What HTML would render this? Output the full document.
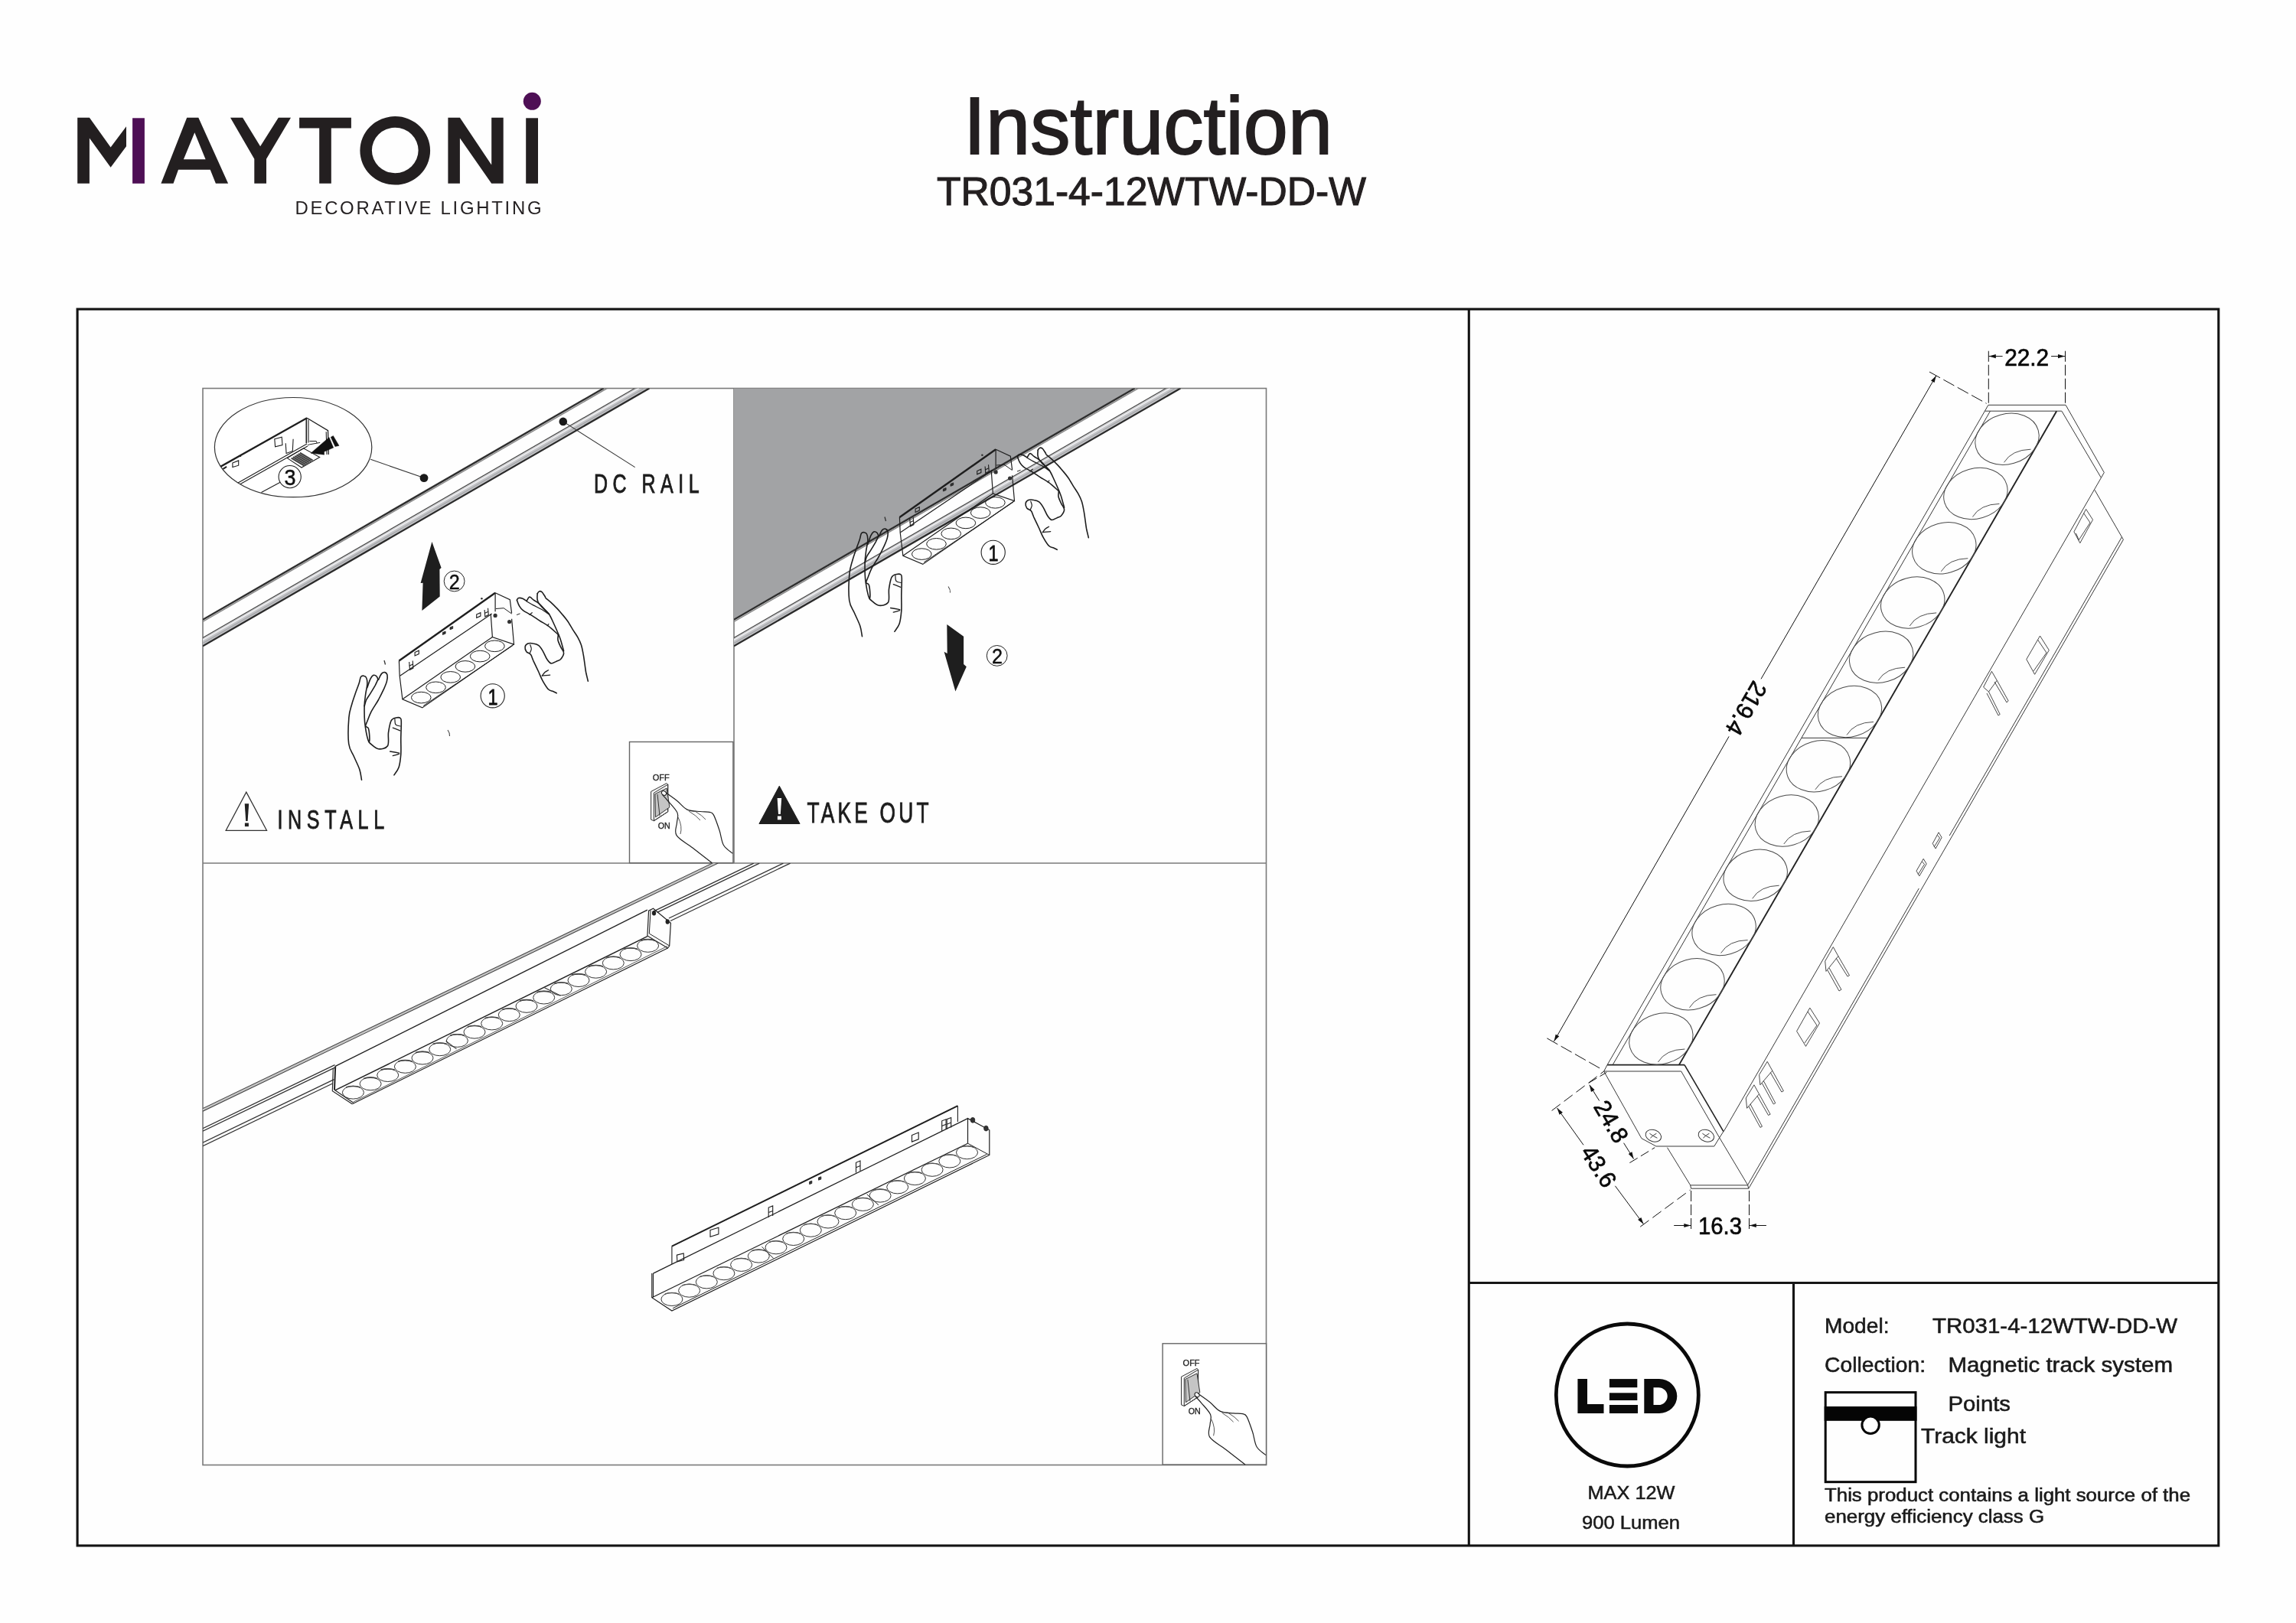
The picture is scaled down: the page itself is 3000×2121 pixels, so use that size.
<!DOCTYPE html>
<html><head><meta charset="utf-8"><style>
html,body{margin:0;padding:0;background:#fff;}
svg{display:block;will-change:transform;}
</style></head><body>
<svg width="3000" height="2121" viewBox="0 0 3000 2121">
<rect width="3000" height="2121" fill="#fefefe"/>
<polygon points="101.2,153.8 116.9,153.8 144.6,192.6 165.0,165.3 165.0,191.2 144.6,218.8 116.9,180.4 116.9,239.8 101.2,239.8" fill="#231f20" stroke="none" stroke-width="1.2" stroke-linejoin="miter" />
<rect x="173.1" y="154.3" width="15.8" height="85.5" fill="#4e0f55"/>
<path d="M210.4,239.8 L244.2,153.8 L259.3,153.8 L298.1,239.8 L281.9,239.8 L274.7,221.8 L233,221.8 L226.5,239.8 Z M239.9,208.2 L268.6,208.2 L254.3,173.2 Z" fill="#231f20" stroke="none" stroke-width="1.2" fill-rule="evenodd"/>
<polygon points="301.0,153.8 317.1,153.8 340.1,191.2 363.8,153.8 380.0,153.8 348.0,207.7 348.0,239.8 332.3,239.8 332.3,207.7" fill="#231f20" stroke="none" stroke-width="1.2" stroke-linejoin="miter" />
<polygon points="391.1,153.8 458.9,153.8 458.9,167.5 432.8,167.5 432.8,239.8 417.2,239.8 417.2,167.5 391.1,167.5" fill="#231f20" stroke="none" stroke-width="1.2" stroke-linejoin="miter" />
<path d="M470.4,196.8 A45.85,44.75 0 1 0 562.1,196.8 A45.85,44.75 0 1 0 470.4,196.8 Z M485.9,196.5 A30.35,29.65 0 1 1 546.6,196.5 A30.35,29.65 0 1 1 485.9,196.5 Z" fill="#231f20" stroke="none" stroke-width="1.2" fill-rule="evenodd"/>
<polygon points="585.4,153.8 600.9,153.8 642.2,215.6 642.2,153.8 657.7,153.8 657.7,239.8 642.2,239.8 600.9,180.4 600.9,239.8 585.4,239.8" fill="#231f20" stroke="none" stroke-width="1.2" stroke-linejoin="miter" />
<rect x="687.2" y="154.3" width="15.8" height="85.5" fill="#231f20"/>
<circle cx="695.3" cy="132.3" r="11.5" fill="#4e0f55"/>
<text transform="translate(385.5,279.6) scale(0.97,1)" font-family="Liberation Sans" font-size="24.7" fill="#231f20" textLength="332" lengthAdjust="spacing">DECORATIVE LIGHTING</text>
<text x="1259" y="200.9" font-family="Liberation Sans" font-size="105.7" font-weight="normal" fill="#231f20" text-anchor="start" textLength="482" lengthAdjust="spacingAndGlyphs" stroke="#231f20" stroke-width="1.9">Instruction</text>
<text x="1224" y="267.9" font-family="Liberation Sans" font-size="52" font-weight="normal" fill="#231f20" text-anchor="start" textLength="561" lengthAdjust="spacingAndGlyphs" stroke="#231f20" stroke-width="1.1">TR031-4-12WTW-DD-W</text>
<rect x="101.1" y="404" width="2797.7" height="1615.9" fill="none" stroke="#131313" stroke-width="3.1"/>
<line x1="1919.3" y1="404.0" x2="1919.3" y2="2019.9" stroke="#131313" stroke-width="3.1" />
<line x1="1919.3" y1="1676.5" x2="2898.8" y2="1676.5" stroke="#161616" stroke-width="3.1" />
<line x1="2343.5" y1="1676.5" x2="2343.5" y2="2019.9" stroke="#161616" stroke-width="3.1" />
<rect x="265" y="507.5" width="1389.5" height="1407" fill="none" stroke="#7a7a7a" stroke-width="1.6"/>
<line x1="959.0" y1="507.5" x2="959.0" y2="1128.0" stroke="#7a7a7a" stroke-width="1.6" />
<line x1="265.0" y1="1128.0" x2="1654.5" y2="1128.0" stroke="#7a7a7a" stroke-width="1.6" />
<defs><clipPath id="cp1"><rect x="265" y="507.5" width="694" height="620.5"/></clipPath><clipPath id="cp2"><rect x="959" y="507.5" width="695.5" height="620.5"/></clipPath><clipPath id="cp3"><rect x="265" y="1128" width="1389.5" height="786.5"/></clipPath></defs>
<polygon points="265.0,834.5 831.4,507.5 847.5,507.5 265.0,843.8" fill="#c3c4c7" stroke="none" stroke-width="1.2" stroke-linejoin="miter" clip-path="url(#cp1)"/>
<line x1="265.0" y1="809.8" x2="788.6" y2="507.5" stroke="#2e2e2e" stroke-width="2.4" clip-path="url(#cp1)"/>
<line x1="265.0" y1="812.4" x2="793.1" y2="507.5" stroke="#8a8a8a" stroke-width="1.6" clip-path="url(#cp1)"/>
<line x1="265.0" y1="833.4" x2="829.5" y2="507.5" stroke="#4a4a4a" stroke-width="1.3" clip-path="url(#cp1)"/>
<line x1="265.0" y1="836.4" x2="834.7" y2="507.5" stroke="#f0f0f2" stroke-width="1.6" clip-path="url(#cp1)"/>
<line x1="265.0" y1="840.6" x2="841.9" y2="507.5" stroke="#a5a6a9" stroke-width="1.4" clip-path="url(#cp1)"/>
<line x1="265.0" y1="844.3" x2="848.4" y2="507.5" stroke="#2a2a2a" stroke-width="2.3" clip-path="url(#cp1)"/>
<polygon points="959.0,507.5 1484.0,507.5 959.0,810.6" fill="#a2a3a5" stroke="none" stroke-width="1.2" stroke-linejoin="miter" clip-path="url(#cp2)"/>
<polygon points="959.0,834.5 1525.4,507.5 1541.5,507.5 959.0,843.8" fill="#c3c4c7" stroke="none" stroke-width="1.2" stroke-linejoin="miter" clip-path="url(#cp2)"/>
<line x1="959.0" y1="809.8" x2="1482.6" y2="507.5" stroke="#2e2e2e" stroke-width="2.4" clip-path="url(#cp2)"/>
<line x1="959.0" y1="812.4" x2="1487.1" y2="507.5" stroke="#8a8a8a" stroke-width="1.6" clip-path="url(#cp2)"/>
<line x1="959.0" y1="833.4" x2="1523.5" y2="507.5" stroke="#4a4a4a" stroke-width="1.3" clip-path="url(#cp2)"/>
<line x1="959.0" y1="836.4" x2="1528.7" y2="507.5" stroke="#f0f0f2" stroke-width="1.6" clip-path="url(#cp2)"/>
<line x1="959.0" y1="840.6" x2="1535.9" y2="507.5" stroke="#a5a6a9" stroke-width="1.4" clip-path="url(#cp2)"/>
<line x1="959.0" y1="844.3" x2="1542.4" y2="507.5" stroke="#2a2a2a" stroke-width="2.3" clip-path="url(#cp2)"/>
<g id="scene">
<polyline points="521.4,863.5 647.1,774.8" fill="none" stroke="#1e1e1e" stroke-width="2.4" stroke-linejoin="miter" />
<polyline points="647.1,774.8 666.3,783.7 668.6,801.4" fill="none" stroke="#1e1e1e" stroke-width="1.2" stroke-linejoin="miter" />
<polyline points="647.1,774.8 647.1,799.2" fill="none" stroke="#1e1e1e" stroke-width="1.2" stroke-linejoin="miter" />
<polyline points="521.4,863.5 522.2,883.5" fill="none" stroke="#1e1e1e" stroke-width="1.2" stroke-linejoin="miter" />
<polyline points="522.2,883.5 642.7,802.1" fill="none" stroke="#1e1e1e" stroke-width="1.2" stroke-linejoin="miter" />
<polyline points="641.2,802.1 643.4,832.5 671.5,842.1 668.6,808.8" fill="none" stroke="#1e1e1e" stroke-width="1.2" stroke-linejoin="miter" />
<polyline points="647.9,795.5 658.2,794.7 668.6,802.1" fill="none" stroke="#1e1e1e" stroke-width="1" stroke-linejoin="miter" />
<polyline points="522.2,883.5 525.9,913.8 551.8,924.9 671.5,842.1" fill="none" stroke="#1e1e1e" stroke-width="1.2" stroke-linejoin="miter" />
<polyline points="553.2,922.4 670.0,843.5" fill="none" stroke="#1e1e1e" stroke-width="1" stroke-linejoin="miter" />
<polyline points="525.9,913.8 643.4,832.5" fill="none" stroke="#1e1e1e" stroke-width="1.2" stroke-linejoin="miter" />
<ellipse cx="550.3" cy="911.6" rx="12.8" ry="7.3" fill="none" stroke="#1e1e1e" stroke-width="1"/>
<ellipse cx="569.5" cy="898.3" rx="12.8" ry="7.3" fill="none" stroke="#1e1e1e" stroke-width="1"/>
<ellipse cx="588.7" cy="884.9" rx="12.8" ry="7.3" fill="none" stroke="#1e1e1e" stroke-width="1"/>
<ellipse cx="607.9" cy="870.9" rx="12.8" ry="7.3" fill="none" stroke="#1e1e1e" stroke-width="1"/>
<ellipse cx="627.2" cy="857.6" rx="12.8" ry="7.3" fill="none" stroke="#1e1e1e" stroke-width="1"/>
<ellipse cx="646.4" cy="844.3" rx="12.8" ry="7.3" fill="none" stroke="#1e1e1e" stroke-width="1"/>
<circle cx="647.1" cy="804.4" r="2.6" fill="#333"/>
<circle cx="665.6" cy="812.5" r="2.6" fill="#333"/>
<polygon points="542.1,852.4 547.3,850.2 547.3,854.6 542.1,856.9" fill="none" stroke="#1e1e1e" stroke-width="1.1" stroke-linejoin="miter" />
<polyline points="534.7,865.0 535.5,875.3 539.9,873.1 539.2,863.5" fill="none" stroke="#1e1e1e" stroke-width="1.1" stroke-linejoin="miter" />
<polyline points="534.7,870.2 539.6,867.9" fill="none" stroke="#1e1e1e" stroke-width="1.1" stroke-linejoin="miter" />
<polygon points="578.4,826.5 582.1,825.1 582.1,828.0 578.4,829.5" fill="#333" stroke="#1e1e1e" stroke-width="0.8" stroke-linejoin="miter" />
<polygon points="588.0,819.9 591.7,818.4 591.7,821.4 588.0,822.8" fill="#333" stroke="#1e1e1e" stroke-width="0.8" stroke-linejoin="miter" />
<polygon points="622.7,802.9 627.9,800.7 627.9,805.1 622.7,807.3" fill="none" stroke="#1e1e1e" stroke-width="1.1" stroke-linejoin="miter" />
<polyline points="633.1,797.0 633.8,805.8 638.3,803.6 637.5,794.7" fill="none" stroke="#1e1e1e" stroke-width="1.1" stroke-linejoin="miter" />
<polyline points="633.1,801.4 638.0,799.2" fill="none" stroke="#1e1e1e" stroke-width="1.1" stroke-linejoin="miter" />
<path d="M502,863 L503.5,868.5" fill="none" stroke="#333" stroke-width="1.3" />
<path d="M585,954 Q588,958 587.5,962" fill="none" stroke="#444" stroke-width="1.1" />
<circle cx="629.4" cy="782.2" r="1.3" fill="#333"/>
<circle cx="643.7" cy="909.3" r="15.6" fill="none" stroke="#222" stroke-width="1.1"/>
<text x="643.9" y="920.5" font-family="Liberation Sans" font-size="30" font-weight="normal" fill="#111" text-anchor="middle" textLength="13" lengthAdjust="spacingAndGlyphs" stroke="#111" stroke-width="0.8">1</text>
<path d="M702.2,775.7 C702.5,775.2 703.4,773.2 704.4,772.9 C705.4,772.5 706.7,772.6 708.0,773.7 C709.2,774.7 711.1,777.9 712.0,779.3 C712.9,780.7 712.0,780.5 713.3,781.8 C714.7,783.1 717.6,785.1 720.0,787.3 C722.5,789.6 725.7,792.9 728.1,795.4 C730.5,797.9 732.1,799.9 734.3,802.5 C736.6,805.2 739.1,808.0 741.5,811.5 C743.9,814.9 746.4,819.5 748.6,823.1 C750.9,826.7 753.1,829.6 754.9,832.9 C756.7,836.2 758.2,839.2 759.4,842.7 C760.6,846.3 761.3,850.5 762.0,854.4 C762.8,858.2 763.2,862.0 763.8,866.0 C764.4,870.0 764.9,874.5 765.6,878.5 C766.4,882.5 767.9,888.2 768.3,890.1" fill="none" stroke="#1e1e1e" stroke-width="1.6" stroke-linecap="round" stroke-linejoin="round" />
<path d="M702.2,775.7 C702.1,776.9 701.7,780.8 702.0,782.9 C702.3,785.0 702.7,786.5 704.0,788.4 C705.2,790.4 707.1,792.1 709.3,794.5 C711.6,796.8 715.0,799.1 717.4,802.5 C719.7,806.0 721.5,810.6 723.6,815.0 C725.7,819.5 728.4,825.8 729.9,829.3 C731.4,832.9 731.4,832.9 732.6,836.5 C733.7,840.1 735.9,848.4 736.6,850.8" fill="none" stroke="#1e1e1e" stroke-width="1.6" stroke-linecap="round" stroke-linejoin="round" />
<path d="M688.3,785.1 C688.8,784.3 690.4,781.1 691.3,780.4 C692.1,779.6 692.4,780.1 693.4,780.7 C694.4,781.4 695.4,782.8 697.3,784.2 C699.1,785.6 701.1,785.9 704.4,788.9 C707.8,792.0 715.2,800.3 717.4,802.5" fill="none" stroke="#1e1e1e" stroke-width="1.6" stroke-linecap="round" stroke-linejoin="round" />
<path d="M688.3,786.0 C689.7,786.8 693.6,789.2 696.8,790.9 C700.0,792.6 704.1,794.3 707.5,796.3 C711.0,798.3 715.7,801.9 717.4,803.0" fill="none" stroke="#1e1e1e" stroke-width="1.3" stroke-linecap="round" stroke-linejoin="round" />
<path d="M675.4,784.2 C675.7,783.8 676.3,781.9 677.6,781.5 C678.9,781.2 681.2,781.5 683.0,782.2 C684.7,782.9 687.4,785.1 688.3,785.7" fill="none" stroke="#1e1e1e" stroke-width="1.6" stroke-linecap="round" stroke-linejoin="round" />
<path d="M675.4,784.2 C675.9,785.5 677.1,789.6 678.5,791.8 C679.8,794.0 680.9,795.7 683.4,797.6 C685.9,799.6 689.5,801.1 693.2,803.4 C697.0,805.7 701.9,809.0 705.7,811.5 C709.6,813.9 712.5,815.2 716.5,818.2 C720.4,821.2 727.3,827.5 729.4,829.3" fill="none" stroke="#1e1e1e" stroke-width="1.6" stroke-linecap="round" stroke-linejoin="round" />
<path d="M729.4,829.3 C729.4,830.5 728.5,833.8 729.0,836.5 C729.5,839.2 731.3,842.6 732.6,845.4 C733.8,848.3 736.6,850.8 736.6,853.5 C736.6,856.2 734.1,859.7 732.6,861.5 C731.0,863.3 729.3,863.3 727.2,864.2 C725.1,865.1 722.1,867.3 720.0,866.9 C718.0,866.4 716.5,864.2 714.7,861.5 C712.9,858.8 711.1,853.8 709.3,850.8 C707.5,847.8 706.0,845.3 704.0,843.6 C701.9,842.0 699.2,841.4 696.8,841.0 C694.4,840.5 691.4,840.4 689.7,841.1 C687.9,841.9 686.4,843.7 686.1,845.4 C685.8,847.2 686.7,850.0 687.9,851.7 C689.1,853.3 691.9,853.3 693.4,855.3 C694.9,857.2 695.1,859.4 696.8,863.3 C698.6,867.2 701.9,874.0 704.0,878.5 C706.0,883.0 707.2,886.4 709.3,890.1 C711.4,893.8 714.2,898.6 716.5,900.8 C718.7,903.1 720.9,902.7 722.7,903.5 C724.5,904.3 726.4,905.4 727.2,905.8" fill="none" stroke="#1e1e1e" stroke-width="1.6" stroke-linecap="round" stroke-linejoin="round" />
<path d="M708.4,883.0 C709.0,882.2 710.7,879.7 712.0,878.5 C713.3,877.3 715.7,876.3 716.5,875.8" fill="none" stroke="#1e1e1e" stroke-width="1.3" stroke-linecap="round" stroke-linejoin="round" />
<path d="M708.4,883.1 C710.1,883.0 717.0,882.2 718.7,882.1" fill="none" stroke="#1e1e1e" stroke-width="1.3" stroke-linecap="round" stroke-linejoin="round" />
<path d="M692.8,842.7 C693.0,843.6 694.4,846.4 694.3,848.1 C694.3,849.8 692.8,852.2 692.5,853.0" fill="none" stroke="#1e1e1e" stroke-width="1.2" stroke-linecap="round" stroke-linejoin="round" />
<path d="M691.9,803.4 C692.4,803.0 694.6,801.2 695.2,800.7" fill="none" stroke="#1e1e1e" stroke-width="1.2" stroke-linecap="round" stroke-linejoin="round" />
<path d="M715.1,817.7 C715.4,817.4 716.6,815.9 716.9,815.5" fill="none" stroke="#1e1e1e" stroke-width="1.2" stroke-linecap="round" stroke-linejoin="round" />
<path d="M675.4,803.4 C676.6,803.0 681.3,801.2 682.5,800.7" fill="none" stroke="#1e1e1e" stroke-width="1.0" stroke-linecap="round" stroke-linejoin="round" stroke-dasharray="4,5"/>
<path d="M472.5,1019.2 C472.0,1016.9 471.5,1010.6 469.8,1005.5 C468.2,1000.5 464.9,994.4 462.5,988.8 C460.2,983.2 456.8,980.6 455.7,972.0 C454.6,963.5 455.2,946.2 455.9,937.5 C456.6,928.8 458.4,925.3 459.9,919.7 C461.4,914.1 463.6,908.5 465.1,904.0 C466.7,899.4 468.3,895.7 469.3,892.5 C470.4,889.2 470.5,886.1 471.4,884.6 C472.4,883.1 473.9,883.1 475.1,883.2 C476.3,883.4 478.0,883.8 478.7,885.7 C479.5,887.5 480.0,891.0 479.8,894.6 C479.6,898.1 478.3,902.4 477.7,907.1 C477.1,911.8 476.3,916.7 476.1,922.8 C476.0,928.9 475.9,936.4 476.6,943.8 C477.4,951.1 479.4,962.0 480.8,966.8 C482.2,971.6 482.8,970.6 485.0,972.6 C487.3,974.6 490.9,978.5 494.5,978.8 C498.0,979.2 504.3,978.2 506.5,974.7 C508.7,971.1 506.8,962.9 507.5,957.4 C508.3,951.9 509.5,944.9 511.2,941.7 C512.9,938.4 515.5,938.5 517.5,938.0 C519.5,937.5 522.1,937.6 523.2,938.5 C524.4,939.5 524.2,939.4 524.3,943.8 C524.4,948.1 523.9,957.7 523.8,964.7 C523.7,971.7 524.2,979.4 523.8,985.7 C523.3,991.9 522.6,997.9 521.2,1002.4 C519.7,1006.9 515.9,1011.1 514.9,1012.9" fill="none" stroke="#1e1e1e" stroke-width="1.6" stroke-linecap="round" stroke-linejoin="round" />
<path d="M479.8,898.7 C480.5,896.8 482.7,889.9 484.0,887.2 C485.3,884.5 486.3,883.1 487.6,882.5 C489.0,881.9 490.8,882.7 491.8,883.6 C492.9,884.4 493.6,887.1 493.9,887.7" fill="none" stroke="#1e1e1e" stroke-width="1.6" stroke-linecap="round" stroke-linejoin="round" />
<path d="M494.5,888.3 C495.1,887.0 497.2,882.0 498.6,880.4 C500.0,878.8 501.6,878.4 502.8,878.6 C504.0,878.9 505.5,880.0 506.0,882.0 C506.4,883.9 506.1,887.4 505.4,890.4 C504.7,893.3 503.6,895.8 501.8,899.8 C499.9,903.8 497.2,909.4 494.5,914.5 C491.7,919.5 487.5,925.4 485.0,930.2 C482.6,934.9 481.0,939.6 479.8,942.7 C478.6,945.9 477.4,947.4 477.7,949.0 C478.0,950.6 480.5,949.5 481.4,952.1 C482.2,954.8 482.8,961.7 482.9,964.7 C483.1,967.7 482.5,969.1 482.4,969.9" fill="none" stroke="#1e1e1e" stroke-width="1.6" stroke-linecap="round" stroke-linejoin="round" />
<path d="M493.9,887.7 C493.3,889.1 491.9,892.5 490.3,895.6 C488.6,898.7 485.9,902.9 484.0,906.1 C482.1,909.2 480.1,911.7 478.7,914.5 C477.4,917.2 476.6,921.4 476.1,922.8" fill="none" stroke="#1e1e1e" stroke-width="1.6" stroke-linecap="round" stroke-linejoin="round" />
<path d="M513.3,951.1 C514.9,951.7 521.2,954.2 522.7,954.8" fill="none" stroke="#1e1e1e" stroke-width="1.3" stroke-linecap="round" stroke-linejoin="round" />
<path d="M509.6,982.0 C511.6,982.3 519.7,983.7 521.7,984.1" fill="none" stroke="#1e1e1e" stroke-width="1.3" stroke-linecap="round" stroke-linejoin="round" />
<path d="M513.3,987.7 C514.7,987.3 520.3,985.6 521.7,985.1" fill="none" stroke="#1e1e1e" stroke-width="1.3" stroke-linecap="round" stroke-linejoin="round" />
<path d="M515.9,939.6 C516.1,940.8 515.7,945.3 517.0,946.9 C518.2,948.5 522.2,948.7 523.2,949.0" fill="none" stroke="#1e1e1e" stroke-width="1.2" stroke-linecap="round" stroke-linejoin="round" />
</g>
<g clip-path="url(#cp2)"><use href="#scene" transform="translate(654,-187.5)"/></g>
<polygon points="564.4,708.1 576.6,742.1 574.4,744.0 574.7,779.5 551.4,798.0 552.6,761.7 549.6,762.1" fill="#1e1e1e" stroke="none" stroke-width="1.2" stroke-linejoin="miter" />
<circle cx="593.6" cy="759.5" r="13.4" fill="none" stroke="#222" stroke-width="1"/>
<text x="593.8" y="770" font-family="Liberation Sans" font-size="28" font-weight="normal" fill="#111" text-anchor="middle" textLength="14" lengthAdjust="spacingAndGlyphs" stroke="#111" stroke-width="0.5">2</text>
<defs><clipPath id="ell"><ellipse cx="383.1" cy="584.6" rx="102.7" ry="65.1"/></clipPath></defs>
<ellipse cx="383.1" cy="584.6" rx="102.7" ry="65.1" fill="#fff" stroke="#333" stroke-width="1.2"/>
<g clip-path="url(#ell)">
<polyline points="275.7,616.8 401.1,546.3" fill="none" stroke="#1e1e1e" stroke-width="2.2" stroke-linejoin="miter" />
<polyline points="275.7,616.8 280.4,616.0" fill="none" stroke="#1e1e1e" stroke-width="1" stroke-linejoin="miter" />
<polyline points="307.0,633.3 401.1,580.0" fill="none" stroke="#1e1e1e" stroke-width="1.1" stroke-linejoin="miter" />
<polyline points="310.2,634.8 401.9,583.1" fill="none" stroke="#1e1e1e" stroke-width="1.1" stroke-linejoin="miter" />
<polyline points="341.5,643.5 366.6,630.1" fill="none" stroke="#1e1e1e" stroke-width="1.1" stroke-linejoin="miter" />
<polyline points="400.3,546.3 400.3,579.2" fill="none" stroke="#1e1e1e" stroke-width="1.6" stroke-linejoin="miter" />
<polyline points="403.0,548.6 403.0,578.4" fill="none" stroke="#1e1e1e" stroke-width="1.1" stroke-linejoin="miter" />
<polyline points="401.1,546.3 428.5,562.7 429.3,594.1" fill="none" stroke="#1e1e1e" stroke-width="1.3" stroke-linejoin="miter" />
<polyline points="426.2,564.3 427.0,594.1" fill="none" stroke="#1e1e1e" stroke-width="1.1" stroke-linejoin="miter" />
<polygon points="406.1,592.2 430.0,571.5 435.7,585.1 423.6,590.3 423.6,594.2" fill="#111" stroke="#1e1e1e" stroke-width="0.5" stroke-linejoin="miter" />
<polygon points="432.2,571.3 435.4,569.6 443.0,582.4 437.9,583.6" fill="#111" stroke="#1e1e1e" stroke-width="0.5" stroke-linejoin="miter" />
<polygon points="375.3,598.6 396.5,585.8 417.7,597.4 394.0,611.0" fill="none" stroke="#1e1e1e" stroke-width="1.1" stroke-linejoin="miter" />
<polyline points="380.7,598.6 397.5,608.5" fill="none" stroke="#444" stroke-width="2.2" stroke-linejoin="miter" />
<polyline points="382.9,597.3 399.7,607.1" fill="none" stroke="#444" stroke-width="2.2" stroke-linejoin="miter" />
<polyline points="385.1,595.9 401.9,605.7" fill="none" stroke="#444" stroke-width="2.2" stroke-linejoin="miter" />
<polyline points="387.4,594.5 404.1,604.4" fill="none" stroke="#444" stroke-width="2.2" stroke-linejoin="miter" />
<polyline points="389.6,593.1 406.3,603.0" fill="none" stroke="#444" stroke-width="2.2" stroke-linejoin="miter" />
<polyline points="391.8,591.7 408.5,601.6" fill="none" stroke="#444" stroke-width="2.2" stroke-linejoin="miter" />
<polyline points="401.9,581.9 404.4,580.9 418.2,578.4" fill="none" stroke="#1e1e1e" stroke-width="1.0" stroke-linejoin="miter" />
<polyline points="404.4,576.5 413.2,576.5 414.2,578.9" fill="none" stroke="#1e1e1e" stroke-width="1.0" stroke-linejoin="miter" />
<polygon points="358.8,573.7 368.2,571.3 369.0,581.5 359.6,583.9" fill="none" stroke="#1e1e1e" stroke-width="1.1" stroke-linejoin="miter" />
<polyline points="373.2,579.2 374.1,592.5 382.3,589.4 383.1,573.7" fill="none" stroke="#1e1e1e" stroke-width="1.1" stroke-linejoin="miter" />
<polygon points="303.9,605.0 311.7,601.9 311.7,608.2 303.9,610.5" fill="none" stroke="#1e1e1e" stroke-width="1.1" stroke-linejoin="miter" />
<polyline points="313.3,596.4 314.9,595.6" fill="none" stroke="#1e1e1e" stroke-width="2" stroke-linejoin="miter" />
<polyline points="291.4,612.9 296.1,609.8" fill="none" stroke="#1e1e1e" stroke-width="2" stroke-linejoin="miter" />
</g>
<circle cx="378.7" cy="623.1" r="14.6" fill="#fff" stroke="#222" stroke-width="1.1"/>
<text x="378.9" y="634" font-family="Liberation Sans" font-size="29" font-weight="normal" fill="#111" text-anchor="middle" textLength="15" lengthAdjust="spacingAndGlyphs" stroke="#111" stroke-width="0.5">3</text>
<line x1="484.2" y1="600.3" x2="554.0" y2="624.6" stroke="#333" stroke-width="1.1" />
<circle cx="554" cy="624.6" r="5.4" fill="#1a1a1a"/>
<line x1="735.8" y1="550.9" x2="829.7" y2="610.6" stroke="#333" stroke-width="1.1" />
<circle cx="735.8" cy="550.9" r="5.3" fill="#1a1a1a"/>
<text transform="translate(776,643.9) scale(0.72,1)" font-family="Liberation Sans" font-size="34.7" fill="#1c1c1c" stroke="#1c1c1c" stroke-width="0.9" textLength="191" lengthAdjust="spacing">DC RAIL</text>
<polygon points="295.2,1085.3 321.8,1035.2 348.5,1085.3" fill="none" stroke="#333" stroke-width="1.3" stroke-linejoin="miter" />
<polygon points="319.7,1050.3 325.2,1050.3 323.6,1073.0 321.2,1073.0" fill="#222" stroke="none" stroke-width="1.2" stroke-linejoin="miter" />
<rect x="319.9" y="1075.5" width="5" height="4.6" fill="#222"/>
<text transform="translate(362.5,1082.7) scale(0.72,1)" font-family="Liberation Sans" font-size="34.9" fill="#1c1c1c" stroke="#1c1c1c" stroke-width="0.9" textLength="194" lengthAdjust="spacing">INSTALL</text>
<g transform="translate(0.0,0.0)">
<rect x="822.5" y="969.5" width="135.4" height="158.2" fill="#fff" stroke="#666" stroke-width="1.4"/>
<g transform="translate(0,0)">
<polygon points="850.6,1034.4 871.1,1023.6 872.7,1025.2 872.7,1060.8 854.4,1072.7 850.6,1071.1" fill="#f4f4f4" stroke="#333" stroke-width="1" stroke-linejoin="miter" />
<polygon points="854.4,1036.2 872.7,1025.2 872.7,1060.8 854.4,1072.7" fill="none" stroke="#333" stroke-width="1" stroke-linejoin="miter" />
<polygon points="856.0,1037.6 871.1,1030.1 874.9,1054.9 856.5,1067.8" fill="#c5c5c5" stroke="#333" stroke-width="1" stroke-linejoin="miter" />
<line x1="859.0" y1="1038.0" x2="862.0" y2="1066.0" stroke="#333" stroke-width="1" />
<text x="852.7" y="1020.4" font-family="Liberation Sans" font-size="10.5" font-weight="normal" fill="#222" text-anchor="start" textLength="22" lengthAdjust="spacingAndGlyphs" stroke="#222" stroke-width="0.3">OFF</text>
<text x="859.8" y="1082.9" font-family="Liberation Sans" font-size="10.5" font-weight="normal" fill="#222" text-anchor="start" textLength="16" lengthAdjust="spacingAndGlyphs" stroke="#222" stroke-width="0.3">ON</text>
</g>
<path d="M865.1,1038.2 C866.4,1039.7 869.7,1043.0 873.0,1047.0 C876.3,1051.0 883.2,1057.7 885.1,1062.4 C887.0,1067.1 884.7,1070.1 884.5,1075.0 C884.3,1079.9 880.6,1086.1 884.0,1091.6 C887.4,1097.1 897.3,1102.0 905.0,1108.0 C912.7,1114.0 926.2,1124.4 930.4,1127.7" fill="none" stroke="#222" stroke-width="1.2" />
<path d="M868.0,1034.5 C870.7,1036.4 879.0,1042.1 884.0,1046.0 C889.0,1049.9 892.8,1055.7 898.0,1058.1 C903.2,1060.5 910.1,1060.0 915.0,1060.5 C919.9,1061.0 924.3,1060.6 927.2,1061.4 C930.1,1062.2 930.4,1061.2 932.5,1065.1 C934.6,1069.0 937.8,1078.4 940.0,1085.0 C942.2,1091.6 942.6,1099.5 945.5,1104.5 C948.4,1109.5 955.3,1113.5 957.3,1115.3" fill="none" stroke="#222" stroke-width="1.2" />
<ellipse cx="867.5" cy="1036.5" rx="3.3" ry="2.5" fill="#fff" stroke="#222" stroke-width="1" transform="rotate(35 867.5 1036.5)"/>
<path d="M900,1060 Q910,1066 915,1072 M908,1060 Q918,1066 922,1071 M886,1068 Q892,1080 889,1090" fill="none" stroke="#444" stroke-width="0.9" />
</g>
<polygon points="1237.3,815.9 1259.1,831.8 1259.1,868.0 1262.8,871.3 1248.4,903.5 1233.6,851.7 1237.7,854.0" fill="#1e1e1e" stroke="none" stroke-width="1.2" stroke-linejoin="miter" />
<circle cx="1302.7" cy="856.9" r="13.4" fill="none" stroke="#222" stroke-width="1"/>
<text x="1302.9" y="867.4" font-family="Liberation Sans" font-size="28" font-weight="normal" fill="#111" text-anchor="middle" textLength="14" lengthAdjust="spacingAndGlyphs" stroke="#111" stroke-width="0.5">2</text>
<polygon points="991.9,1076.5 1018.3,1027.2 1045.1,1076.5" fill="#1e1e1e" stroke="#1e1e1e" stroke-width="1" stroke-linejoin="miter" />
<polygon points="1015.6,1043.0 1021.2,1043.0 1019.8,1064.0 1017.0,1064.0" fill="#fff" stroke="none" stroke-width="1.2" stroke-linejoin="miter" />
<rect x="1015.9" y="1066.5" width="5" height="4.8" fill="#fff"/>
<text transform="translate(1054.5,1074.5) scale(0.72,1)" font-family="Liberation Sans" font-size="36.6" fill="#1c1c1c" stroke="#1c1c1c" stroke-width="0.9" textLength="221" lengthAdjust="spacing">TAKE OUT</text>
<line x1="265.0" y1="1450.4" x2="934.5" y2="1128.1" stroke="#c8c8c8" stroke-width="2.4" clip-path="url(#cp3)"/>
<line x1="265.0" y1="1448.6" x2="930.8" y2="1128.1" stroke="#444" stroke-width="1.1" clip-path="url(#cp3)"/>
<line x1="265.0" y1="1452.2" x2="938.2" y2="1128.1" stroke="#444" stroke-width="1.1" clip-path="url(#cp3)"/>
<line x1="265.0" y1="1474.6" x2="437.5" y2="1391.6" stroke="#333" stroke-width="1.3" clip-path="url(#cp3)"/>
<line x1="265.0" y1="1478.2" x2="437.5" y2="1395.2" stroke="#333" stroke-width="1.3" clip-path="url(#cp3)"/>
<line x1="853.6" y1="1191.2" x2="984.8" y2="1128.1" stroke="#333" stroke-width="1.3" clip-path="url(#cp3)"/>
<line x1="858.6" y1="1192.4" x2="992.3" y2="1128.1" stroke="#333" stroke-width="1.3" clip-path="url(#cp3)"/>
<line x1="265.0" y1="1493.2" x2="436.5" y2="1410.6" stroke="#333" stroke-width="1.3" clip-path="url(#cp3)"/>
<line x1="265.0" y1="1497.6" x2="434.5" y2="1416.0" stroke="#333" stroke-width="1.3" clip-path="url(#cp3)"/>
<line x1="874.0" y1="1200.0" x2="1023.4" y2="1128.1" stroke="#333" stroke-width="1.3" clip-path="url(#cp3)"/>
<line x1="876.0" y1="1203.5" x2="1032.6" y2="1128.1" stroke="#333" stroke-width="1.3" clip-path="url(#cp3)"/>
<polyline points="438.2,1393.4 437.0,1424.2" fill="none" stroke="#222" stroke-width="2" stroke-linejoin="miter" />
<polyline points="435.3,1396.1 434.3,1425.7 460.2,1442.7" fill="none" stroke="#222" stroke-width="1.1" stroke-linejoin="miter" />
<line x1="438.2" y1="1393.4" x2="845.9" y2="1189.2" stroke="#222" stroke-width="1.4" />
<line x1="437.0" y1="1424.2" x2="461.9" y2="1441.2" stroke="#222" stroke-width="1.1" />
<line x1="438.2" y1="1424.7" x2="845.9" y2="1223.7" stroke="#222" stroke-width="1.5" />
<line x1="460.2" y1="1442.7" x2="872.5" y2="1239.0" stroke="#222" stroke-width="1.2" />
<line x1="461.9" y1="1440.0" x2="872.0" y2="1236.5" stroke="#555" stroke-width="1.0" />
<polygon points="847.6,1190.2 845.9,1223.0 872.5,1239.0 874.7,1236.0 876.4,1206.2 853.5,1187.2" fill="none" stroke="#222" stroke-width="1.2" stroke-linejoin="miter" />
<line x1="850.1" y1="1189.7" x2="848.3" y2="1220.0" stroke="#222" stroke-width="1" />
<line x1="848.3" y1="1220.0" x2="874.7" y2="1236.0" stroke="#222" stroke-width="1" />
<ellipse cx="854.5" cy="1193.2" rx="2.6" ry="3.2" fill="#222"/>
<ellipse cx="872.2" cy="1204.5" rx="2.6" ry="3.2" fill="#222"/>
<ellipse cx="461.4" cy="1427.7" rx="14" ry="8.4" fill="none" stroke="#333" stroke-width="1"/>
<path d="M452.4,1420.7 Q461.4,1418.2 470.4,1420.7" fill="none" stroke="#444" stroke-width="1.6"/>
<ellipse cx="484.1" cy="1416.4" rx="14" ry="8.4" fill="none" stroke="#333" stroke-width="1"/>
<path d="M475.1,1409.4 Q484.1,1406.9 493.1,1409.4" fill="none" stroke="#444" stroke-width="1.6"/>
<ellipse cx="506.7" cy="1405.1" rx="14" ry="8.4" fill="none" stroke="#333" stroke-width="1"/>
<path d="M497.7,1398.1 Q506.7,1395.6 515.7,1398.1" fill="none" stroke="#444" stroke-width="1.6"/>
<ellipse cx="529.4" cy="1393.9" rx="14" ry="8.4" fill="none" stroke="#333" stroke-width="1"/>
<path d="M520.4,1386.9 Q529.4,1384.4 538.4,1386.9" fill="none" stroke="#444" stroke-width="1.6"/>
<ellipse cx="552.0" cy="1382.6" rx="14" ry="8.4" fill="none" stroke="#333" stroke-width="1"/>
<path d="M543.0,1375.6 Q552.0,1373.1 561.0,1375.6" fill="none" stroke="#444" stroke-width="1.6"/>
<ellipse cx="574.7" cy="1371.3" rx="14" ry="8.4" fill="none" stroke="#333" stroke-width="1"/>
<path d="M565.7,1364.3 Q574.7,1361.8 583.7,1364.3" fill="none" stroke="#444" stroke-width="1.6"/>
<ellipse cx="597.4" cy="1360.0" rx="14" ry="8.4" fill="none" stroke="#333" stroke-width="1"/>
<path d="M588.4,1353.0 Q597.4,1350.5 606.4,1353.0" fill="none" stroke="#444" stroke-width="1.6"/>
<ellipse cx="620.0" cy="1348.7" rx="14" ry="8.4" fill="none" stroke="#333" stroke-width="1"/>
<path d="M611.0,1341.7 Q620.0,1339.2 629.0,1341.7" fill="none" stroke="#444" stroke-width="1.6"/>
<ellipse cx="642.7" cy="1337.5" rx="14" ry="8.4" fill="none" stroke="#333" stroke-width="1"/>
<path d="M633.7,1330.5 Q642.7,1328.0 651.7,1330.5" fill="none" stroke="#444" stroke-width="1.6"/>
<ellipse cx="665.3" cy="1326.2" rx="14" ry="8.4" fill="none" stroke="#333" stroke-width="1"/>
<path d="M656.3,1319.2 Q665.3,1316.7 674.3,1319.2" fill="none" stroke="#444" stroke-width="1.6"/>
<ellipse cx="688.0" cy="1314.9" rx="14" ry="8.4" fill="none" stroke="#333" stroke-width="1"/>
<path d="M679.0,1307.9 Q688.0,1305.4 697.0,1307.9" fill="none" stroke="#444" stroke-width="1.6"/>
<ellipse cx="710.7" cy="1303.6" rx="14" ry="8.4" fill="none" stroke="#333" stroke-width="1"/>
<path d="M701.7,1296.6 Q710.7,1294.1 719.7,1296.6" fill="none" stroke="#444" stroke-width="1.6"/>
<ellipse cx="733.3" cy="1292.3" rx="14" ry="8.4" fill="none" stroke="#333" stroke-width="1"/>
<path d="M724.3,1285.3 Q733.3,1282.8 742.3,1285.3" fill="none" stroke="#444" stroke-width="1.6"/>
<ellipse cx="756.0" cy="1281.1" rx="14" ry="8.4" fill="none" stroke="#333" stroke-width="1"/>
<path d="M747.0,1274.1 Q756.0,1271.6 765.0,1274.1" fill="none" stroke="#444" stroke-width="1.6"/>
<ellipse cx="778.6" cy="1269.8" rx="14" ry="8.4" fill="none" stroke="#333" stroke-width="1"/>
<path d="M769.6,1262.8 Q778.6,1260.3 787.6,1262.8" fill="none" stroke="#444" stroke-width="1.6"/>
<ellipse cx="801.3" cy="1258.5" rx="14" ry="8.4" fill="none" stroke="#333" stroke-width="1"/>
<path d="M792.3,1251.5 Q801.3,1249.0 810.3,1251.5" fill="none" stroke="#444" stroke-width="1.6"/>
<ellipse cx="824.0" cy="1247.2" rx="14" ry="8.4" fill="none" stroke="#333" stroke-width="1"/>
<path d="M815.0,1240.2 Q824.0,1237.7 833.0,1240.2" fill="none" stroke="#444" stroke-width="1.6"/>
<ellipse cx="846.6" cy="1235.9" rx="14" ry="8.4" fill="none" stroke="#333" stroke-width="1"/>
<path d="M837.6,1228.9 Q846.6,1226.4 855.6,1228.9" fill="none" stroke="#444" stroke-width="1.6"/>
<line x1="582.6" y1="1360.4" x2="596.5" y2="1370.9" stroke="#333" stroke-width="1.1" />
<line x1="711.5" y1="1290.7" x2="732.4" y2="1301.2" stroke="#333" stroke-width="1.1" />
<polyline points="877.9,1628.6 1251.4,1445.2" fill="none" stroke="#1e1e1e" stroke-width="2.0" stroke-linejoin="miter" />
<polyline points="877.9,1628.6 877.9,1652.1" fill="none" stroke="#1e1e1e" stroke-width="1.1" stroke-linejoin="miter" />
<polyline points="1251.4,1445.2 1251.4,1465.9" fill="none" stroke="#1e1e1e" stroke-width="1.1" stroke-linejoin="miter" />
<polyline points="853.5,1664.1 1264.5,1461.6" fill="none" stroke="#1e1e1e" stroke-width="1.2" stroke-linejoin="miter" />
<polyline points="851.8,1664.1 851.8,1695.7 877.9,1713.1 1292.8,1509.5 1292.8,1476.8 1264.5,1461.6 1264.5,1494.2" fill="none" stroke="#1e1e1e" stroke-width="1.2" stroke-linejoin="miter" />
<polyline points="853.5,1664.1 853.5,1695.2" fill="none" stroke="#1e1e1e" stroke-width="1.0" stroke-linejoin="miter" />
<polyline points="851.8,1695.7 1264.5,1494.2" fill="none" stroke="#1e1e1e" stroke-width="1.2" stroke-linejoin="miter" />
<polyline points="879.0,1709.8 1289.5,1508.4" fill="none" stroke="#1e1e1e" stroke-width="1.0" stroke-linejoin="miter" />
<polyline points="1264.5,1494.2 1292.8,1509.5" fill="none" stroke="#1e1e1e" stroke-width="1.0" stroke-linejoin="miter" />
<ellipse cx="1271.0" cy="1463.8" rx="2.8" ry="3.4" fill="#333" stroke="#222" stroke-width="0.8"/>
<ellipse cx="1288.4" cy="1474.6" rx="2.8" ry="3.4" fill="#333" stroke="#222" stroke-width="0.8"/>
<ellipse cx="877.9" cy="1697.9" rx="14" ry="8.6" fill="none" stroke="#333" stroke-width="1"/>
<path d="M868.9,1690.9 Q877.9,1688.4 886.9,1690.9" fill="none" stroke="#555" stroke-width="1.3"/>
<ellipse cx="900.6" cy="1686.6" rx="14" ry="8.6" fill="none" stroke="#333" stroke-width="1"/>
<path d="M891.6,1679.6 Q900.6,1677.1 909.6,1679.6" fill="none" stroke="#555" stroke-width="1.3"/>
<ellipse cx="923.3" cy="1675.3" rx="14" ry="8.6" fill="none" stroke="#333" stroke-width="1"/>
<path d="M914.3,1668.3 Q923.3,1665.8 932.3,1668.3" fill="none" stroke="#555" stroke-width="1.3"/>
<ellipse cx="945.9" cy="1664.1" rx="14" ry="8.6" fill="none" stroke="#333" stroke-width="1"/>
<path d="M936.9,1657.1 Q945.9,1654.6 954.9,1657.1" fill="none" stroke="#555" stroke-width="1.3"/>
<ellipse cx="968.6" cy="1652.8" rx="14" ry="8.6" fill="none" stroke="#333" stroke-width="1"/>
<path d="M959.6,1645.8 Q968.6,1643.3 977.6,1645.8" fill="none" stroke="#555" stroke-width="1.3"/>
<ellipse cx="991.3" cy="1641.5" rx="14" ry="8.6" fill="none" stroke="#333" stroke-width="1"/>
<path d="M982.3,1634.5 Q991.3,1632.0 1000.3,1634.5" fill="none" stroke="#555" stroke-width="1.3"/>
<ellipse cx="1014.0" cy="1630.2" rx="14" ry="8.6" fill="none" stroke="#333" stroke-width="1"/>
<path d="M1005.0,1623.2 Q1014.0,1620.7 1023.0,1623.2" fill="none" stroke="#555" stroke-width="1.3"/>
<ellipse cx="1036.7" cy="1618.9" rx="14" ry="8.6" fill="none" stroke="#333" stroke-width="1"/>
<path d="M1027.7,1611.9 Q1036.7,1609.4 1045.7,1611.9" fill="none" stroke="#555" stroke-width="1.3"/>
<ellipse cx="1059.3" cy="1607.7" rx="14" ry="8.6" fill="none" stroke="#333" stroke-width="1"/>
<path d="M1050.3,1600.7 Q1059.3,1598.2 1068.3,1600.7" fill="none" stroke="#555" stroke-width="1.3"/>
<ellipse cx="1082.0" cy="1596.4" rx="14" ry="8.6" fill="none" stroke="#333" stroke-width="1"/>
<path d="M1073.0,1589.4 Q1082.0,1586.9 1091.0,1589.4" fill="none" stroke="#555" stroke-width="1.3"/>
<ellipse cx="1104.7" cy="1585.1" rx="14" ry="8.6" fill="none" stroke="#333" stroke-width="1"/>
<path d="M1095.7,1578.1 Q1104.7,1575.6 1113.7,1578.1" fill="none" stroke="#555" stroke-width="1.3"/>
<ellipse cx="1127.4" cy="1573.8" rx="14" ry="8.6" fill="none" stroke="#333" stroke-width="1"/>
<path d="M1118.4,1566.8 Q1127.4,1564.3 1136.4,1566.8" fill="none" stroke="#555" stroke-width="1.3"/>
<ellipse cx="1150.1" cy="1562.5" rx="14" ry="8.6" fill="none" stroke="#333" stroke-width="1"/>
<path d="M1141.1,1555.5 Q1150.1,1553.0 1159.1,1555.5" fill="none" stroke="#555" stroke-width="1.3"/>
<ellipse cx="1172.7" cy="1551.3" rx="14" ry="8.6" fill="none" stroke="#333" stroke-width="1"/>
<path d="M1163.7,1544.3 Q1172.7,1541.8 1181.7,1544.3" fill="none" stroke="#555" stroke-width="1.3"/>
<ellipse cx="1195.4" cy="1540.0" rx="14" ry="8.6" fill="none" stroke="#333" stroke-width="1"/>
<path d="M1186.4,1533.0 Q1195.4,1530.5 1204.4,1533.0" fill="none" stroke="#555" stroke-width="1.3"/>
<ellipse cx="1218.1" cy="1528.7" rx="14" ry="8.6" fill="none" stroke="#333" stroke-width="1"/>
<path d="M1209.1,1521.7 Q1218.1,1519.2 1227.1,1521.7" fill="none" stroke="#555" stroke-width="1.3"/>
<ellipse cx="1240.8" cy="1517.4" rx="14" ry="8.6" fill="none" stroke="#333" stroke-width="1"/>
<path d="M1231.8,1510.4 Q1240.8,1507.9 1249.8,1510.4" fill="none" stroke="#555" stroke-width="1.3"/>
<ellipse cx="1263.5" cy="1506.1" rx="14" ry="8.6" fill="none" stroke="#333" stroke-width="1"/>
<path d="M1254.5,1499.1 Q1263.5,1496.6 1272.5,1499.1" fill="none" stroke="#555" stroke-width="1.3"/>
<polyline points="995.5,1629.3 1010.7,1644.5" fill="none" stroke="#1e1e1e" stroke-width="1" stroke-linejoin="miter" />
<polyline points="1132.7,1560.7 1147.9,1574.8" fill="none" stroke="#1e1e1e" stroke-width="1" stroke-linejoin="miter" />
<polygon points="884.4,1640.1 893.2,1638.0 893.6,1646.7 884.9,1648.9" fill="none" stroke="#1e1e1e" stroke-width="1.1" stroke-linejoin="miter" />
<polygon points="928.0,1607.5 938.9,1604.2 938.9,1612.9 928.0,1616.2" fill="none" stroke="#1e1e1e" stroke-width="1.1" stroke-linejoin="miter" />
<polygon points="1191.5,1483.4 1200.2,1480.1 1200.2,1488.8 1191.5,1492.1" fill="none" stroke="#1e1e1e" stroke-width="1.1" stroke-linejoin="miter" />
<polyline points="1004.2,1591.1 1004.2,1578.1 1009.7,1575.9 1009.7,1589.0" fill="none" stroke="#1e1e1e" stroke-width="1.1" stroke-linejoin="miter" />
<polyline points="1004.2,1584.6 1009.7,1582.4" fill="none" stroke="#1e1e1e" stroke-width="1.1" stroke-linejoin="miter" />
<polyline points="1118.5,1532.4 1118.5,1519.3 1124.0,1517.1 1124.0,1530.2" fill="none" stroke="#1e1e1e" stroke-width="1.1" stroke-linejoin="miter" />
<polyline points="1118.5,1525.8 1124.0,1523.6" fill="none" stroke="#1e1e1e" stroke-width="1.1" stroke-linejoin="miter" />
<polyline points="1230.7,1477.9 1230.7,1464.8 1236.1,1462.7 1236.1,1475.7" fill="none" stroke="#1e1e1e" stroke-width="1.1" stroke-linejoin="miter" />
<polyline points="1230.7,1471.4 1236.1,1469.2" fill="none" stroke="#1e1e1e" stroke-width="1.1" stroke-linejoin="miter" />
<polyline points="1237.2,1475.7 1237.2,1462.7 1242.7,1460.5 1242.7,1473.6" fill="none" stroke="#1e1e1e" stroke-width="1.1" stroke-linejoin="miter" />
<polyline points="1237.2,1469.2 1242.7,1467.0" fill="none" stroke="#1e1e1e" stroke-width="1.1" stroke-linejoin="miter" />
<polygon points="1057.6,1544.3 1060.8,1543.2 1060.8,1546.5 1057.6,1547.6" fill="#333" stroke="#1e1e1e" stroke-width="0.8" stroke-linejoin="miter" />
<polygon points="1069.5,1538.9 1072.8,1537.8 1072.8,1541.1 1069.5,1542.2" fill="#333" stroke="#1e1e1e" stroke-width="0.8" stroke-linejoin="miter" />
<g transform="translate(696.6,786.3)">
<rect x="822.5" y="969.5" width="135.4" height="158.2" fill="#fff" stroke="#666" stroke-width="1.4"/>
<g transform="translate(-3.7,-21.5)">
<polygon points="850.6,1034.4 871.1,1023.6 872.7,1025.2 872.7,1060.8 854.4,1072.7 850.6,1071.1" fill="#f4f4f4" stroke="#333" stroke-width="1" stroke-linejoin="miter" />
<polygon points="854.4,1036.2 872.7,1025.2 872.7,1060.8 854.4,1072.7" fill="none" stroke="#333" stroke-width="1" stroke-linejoin="miter" />
<polygon points="856.0,1037.6 871.1,1030.1 874.9,1054.9 856.5,1067.8" fill="#c5c5c5" stroke="#333" stroke-width="1" stroke-linejoin="miter" />
<line x1="859.0" y1="1038.0" x2="862.0" y2="1066.0" stroke="#333" stroke-width="1" />
<text x="852.7" y="1020.4" font-family="Liberation Sans" font-size="10.5" font-weight="normal" fill="#222" text-anchor="start" textLength="22" lengthAdjust="spacingAndGlyphs" stroke="#222" stroke-width="0.3">OFF</text>
<text x="859.8" y="1082.9" font-family="Liberation Sans" font-size="10.5" font-weight="normal" fill="#222" text-anchor="start" textLength="16" lengthAdjust="spacingAndGlyphs" stroke="#222" stroke-width="0.3">ON</text>
</g>
<path d="M865.1,1038.2 C866.4,1039.7 869.7,1043.0 873.0,1047.0 C876.3,1051.0 883.2,1057.7 885.1,1062.4 C887.0,1067.1 884.7,1070.1 884.5,1075.0 C884.3,1079.9 880.6,1086.1 884.0,1091.6 C887.4,1097.1 897.3,1102.0 905.0,1108.0 C912.7,1114.0 926.2,1124.4 930.4,1127.7" fill="none" stroke="#222" stroke-width="1.2" />
<path d="M868.0,1034.5 C870.7,1036.4 879.0,1042.1 884.0,1046.0 C889.0,1049.9 892.8,1055.7 898.0,1058.1 C903.2,1060.5 910.1,1060.0 915.0,1060.5 C919.9,1061.0 924.3,1060.6 927.2,1061.4 C930.1,1062.2 930.4,1061.2 932.5,1065.1 C934.6,1069.0 937.8,1078.4 940.0,1085.0 C942.2,1091.6 942.6,1099.5 945.5,1104.5 C948.4,1109.5 955.3,1113.5 957.3,1115.3" fill="none" stroke="#222" stroke-width="1.2" />
<ellipse cx="867.5" cy="1036.5" rx="3.3" ry="2.5" fill="#fff" stroke="#222" stroke-width="1" transform="rotate(35 867.5 1036.5)"/>
<path d="M900,1060 Q910,1066 915,1072 M908,1060 Q918,1066 922,1071 M886,1068 Q892,1080 889,1090" fill="none" stroke="#444" stroke-width="0.9" />
</g>
<line x1="2597.9" y1="529.3" x2="2699.1" y2="529.3" stroke="#3a3a3a" stroke-width="1.0" />
<line x1="2593.4" y1="537.2" x2="2693.9" y2="537.2" stroke="#3a3a3a" stroke-width="1.0" />
<line x1="2597.9" y1="529.3" x2="2593.4" y2="537.2" stroke="#3a3a3a" stroke-width="1.0" />
<line x1="2699.1" y1="529.3" x2="2749.3" y2="617.5" stroke="#3a3a3a" stroke-width="1.0" />
<line x1="2693.9" y1="537.2" x2="2745.4" y2="624.4" stroke="#3a3a3a" stroke-width="1.0" />
<line x1="2749.3" y1="617.5" x2="2745.4" y2="624.4" stroke="#3a3a3a" stroke-width="1.0" />
<line x1="2593.4" y1="537.2" x2="2100.1" y2="1391.6" stroke="#3a3a3a" stroke-width="1.0" />
<line x1="2600.5" y1="537.2" x2="2107.2" y2="1391.6" stroke="#3a3a3a" stroke-width="1.0" />
<line x1="2687.2" y1="537.2" x2="2193.9" y2="1391.6" stroke="#222" stroke-width="1.9" />
<line x1="2745.4" y1="624.4" x2="2252.2" y2="1478.7" stroke="#3a3a3a" stroke-width="1.0" />
<line x1="2736.9" y1="640.2" x2="2774.4" y2="705.2" stroke="#3a3a3a" stroke-width="1.0" />
<line x1="2774.4" y1="705.2" x2="2284.8" y2="1553.2" stroke="#3a3a3a" stroke-width="1.0" />
<line x1="2772.5" y1="701.7" x2="2547.2" y2="1092.0" stroke="#3a3a3a" stroke-width="1.0" />
<line x1="2507.3" y1="1161.0" x2="2283.4" y2="1548.9" stroke="#3a3a3a" stroke-width="1.0" />
<line x1="2100.1" y1="1391.6" x2="2201.0" y2="1391.6" stroke="#222" stroke-width="1.6" />
<line x1="2095.7" y1="1400.0" x2="2196.7" y2="1400.0" stroke="#3a3a3a" stroke-width="1.0" />
<line x1="2100.1" y1="1391.6" x2="2095.7" y2="1400.0" stroke="#3a3a3a" stroke-width="1.0" />
<line x1="2201.0" y1="1391.6" x2="2251.9" y2="1478.7" stroke="#222" stroke-width="1.6" />
<line x1="2196.7" y1="1400.0" x2="2246.7" y2="1486.8" stroke="#3a3a3a" stroke-width="1.0" />
<line x1="2251.9" y1="1478.7" x2="2246.7" y2="1486.8" stroke="#3a3a3a" stroke-width="1.0" />
<polyline points="2095.7,1400.0 2144.9,1487.7 2163.9,1498.0 2239.8,1498.0 2246.7,1486.8" fill="none" stroke="#3a3a3a" stroke-width="1.0" stroke-linejoin="miter" />
<ellipse cx="2160.4" cy="1484.2" rx="10.5" ry="7.6" transform="rotate(20 2160.4 1484.2)" fill="none" stroke="#3a3a3a" stroke-width="1"/>
<path d="M2155.4,1481.2 Q2160.4,1485.2 2165.4,1487.2 M2156.4,1487.2 Q2160.4,1483.2 2164.4,1481.2" fill="none" stroke="#3a3a3a" stroke-width="1"/>
<ellipse cx="2229.4" cy="1484.2" rx="10.5" ry="7.6" transform="rotate(20 2229.4 1484.2)" fill="none" stroke="#3a3a3a" stroke-width="1"/>
<path d="M2224.4,1481.2 Q2229.4,1485.2 2234.4,1487.2 M2225.4,1487.2 Q2229.4,1483.2 2233.4,1481.2" fill="none" stroke="#3a3a3a" stroke-width="1"/>
<line x1="2178.5" y1="1499.7" x2="2208.7" y2="1548.9" stroke="#3a3a3a" stroke-width="1.0" />
<line x1="2208.7" y1="1548.9" x2="2283.8" y2="1548.9" stroke="#3a3a3a" stroke-width="1.0" />
<line x1="2209.6" y1="1553.2" x2="2284.6" y2="1553.2" stroke="#3a3a3a" stroke-width="1.0" />
<line x1="2208.7" y1="1548.9" x2="2209.6" y2="1553.2" stroke="#3a3a3a" stroke-width="1.0" />
<line x1="2246.7" y1="1486.8" x2="2283.8" y2="1548.9" stroke="#3a3a3a" stroke-width="1.0" />
<line x1="2283.8" y1="1548.9" x2="2284.6" y2="1553.2" stroke="#3a3a3a" stroke-width="1.0" />
<ellipse cx="2622.5" cy="573.8" rx="42.3" ry="32.8" transform="rotate(-16 2622.5 573.8)" fill="none" stroke="#4a4a4a" stroke-width="1"/>
<path d="M2618.5,604.3 Q2628.5,587.8 2653.5,587.2" fill="none" stroke="#3a3a3a" stroke-width="0.9"/>
<ellipse cx="2581.4" cy="645.0" rx="42.3" ry="32.8" transform="rotate(-16 2581.4 645.0)" fill="none" stroke="#4a4a4a" stroke-width="1"/>
<path d="M2577.4,675.5 Q2587.4,659.0 2612.4,658.4" fill="none" stroke="#3a3a3a" stroke-width="0.9"/>
<ellipse cx="2540.3" cy="716.3" rx="42.3" ry="32.8" transform="rotate(-16 2540.3 716.3)" fill="none" stroke="#4a4a4a" stroke-width="1"/>
<path d="M2536.3,746.8 Q2546.3,730.3 2571.3,729.7" fill="none" stroke="#3a3a3a" stroke-width="0.9"/>
<ellipse cx="2499.2" cy="787.5" rx="42.3" ry="32.8" transform="rotate(-16 2499.2 787.5)" fill="none" stroke="#4a4a4a" stroke-width="1"/>
<path d="M2495.2,818.0 Q2505.2,801.5 2530.2,800.9" fill="none" stroke="#3a3a3a" stroke-width="0.9"/>
<ellipse cx="2458.1" cy="858.8" rx="42.3" ry="32.8" transform="rotate(-16 2458.1 858.8)" fill="none" stroke="#4a4a4a" stroke-width="1"/>
<path d="M2454.1,889.3 Q2464.1,872.8 2489.1,872.2" fill="none" stroke="#3a3a3a" stroke-width="0.9"/>
<ellipse cx="2417.0" cy="930.0" rx="42.3" ry="32.8" transform="rotate(-16 2417.0 930.0)" fill="none" stroke="#4a4a4a" stroke-width="1"/>
<path d="M2413.0,960.5 Q2423.0,944.0 2448.0,943.4" fill="none" stroke="#3a3a3a" stroke-width="0.9"/>
<ellipse cx="2375.9" cy="1001.3" rx="42.3" ry="32.8" transform="rotate(-16 2375.9 1001.3)" fill="none" stroke="#4a4a4a" stroke-width="1"/>
<path d="M2371.9,1031.8 Q2381.9,1015.3 2406.9,1014.7" fill="none" stroke="#3a3a3a" stroke-width="0.9"/>
<ellipse cx="2334.8" cy="1072.5" rx="42.3" ry="32.8" transform="rotate(-16 2334.8 1072.5)" fill="none" stroke="#4a4a4a" stroke-width="1"/>
<path d="M2330.8,1103.0 Q2340.8,1086.5 2365.8,1086.0" fill="none" stroke="#3a3a3a" stroke-width="0.9"/>
<ellipse cx="2293.7" cy="1143.8" rx="42.3" ry="32.8" transform="rotate(-16 2293.7 1143.8)" fill="none" stroke="#4a4a4a" stroke-width="1"/>
<path d="M2289.7,1174.3 Q2299.7,1157.8 2324.7,1157.2" fill="none" stroke="#3a3a3a" stroke-width="0.9"/>
<ellipse cx="2252.6" cy="1215.0" rx="42.3" ry="32.8" transform="rotate(-16 2252.6 1215.0)" fill="none" stroke="#4a4a4a" stroke-width="1"/>
<path d="M2248.6,1245.5 Q2258.6,1229.0 2283.6,1228.5" fill="none" stroke="#3a3a3a" stroke-width="0.9"/>
<ellipse cx="2211.5" cy="1286.3" rx="42.3" ry="32.8" transform="rotate(-16 2211.5 1286.3)" fill="none" stroke="#4a4a4a" stroke-width="1"/>
<path d="M2207.5,1316.8 Q2217.5,1300.3 2242.5,1299.7" fill="none" stroke="#3a3a3a" stroke-width="0.9"/>
<ellipse cx="2170.4" cy="1357.5" rx="42.3" ry="32.8" transform="rotate(-16 2170.4 1357.5)" fill="none" stroke="#4a4a4a" stroke-width="1"/>
<path d="M2166.4,1388.0 Q2176.4,1371.5 2201.4,1371.0" fill="none" stroke="#3a3a3a" stroke-width="0.9"/>
<line x1="2354.0" y1="964.4" x2="2440.3" y2="964.4" stroke="#3a3a3a" stroke-width="1" />
<polygon points="2725.6,665.4 2734.5,679.2 2717.8,709.7 2709.9,694.9" fill="none" stroke="#333" stroke-width="0.9" stroke-linejoin="miter" />
<polyline points="2722.5,670.5 2731.0,683.0 2716.0,706.0" fill="none" stroke="#333" stroke-width="0.9" stroke-linejoin="miter" />
<polyline points="2712.5,697.0 2716.0,705.0" fill="none" stroke="#333" stroke-width="0.9" stroke-linejoin="miter" />
<polygon points="2665.5,831.0 2677.3,849.7 2658.6,881.3 2647.8,861.6" fill="none" stroke="#333" stroke-width="0.9" stroke-linejoin="miter" />
<polyline points="2662.5,836.0 2674.0,853.0 2657.0,877.0" fill="none" stroke="#333" stroke-width="0.9" stroke-linejoin="miter" />
<polygon points="2602.4,877.3 2609.3,889.2 2598.5,904.0 2591.6,898.0" fill="none" stroke="#333" stroke-width="0.9" stroke-linejoin="miter" />
<polyline points="2609.3,889.2 2624.1,915.8 2622.0,918.0 2606.0,891.0" fill="none" stroke="#333" stroke-width="0.9" stroke-linejoin="miter" />
<polyline points="2598.5,904.0 2613.2,933.5 2611.0,935.0 2596.0,906.0" fill="none" stroke="#333" stroke-width="0.9" stroke-linejoin="miter" />
<polygon points="2533.1,1087.8 2537.1,1094.5 2529.1,1109.0 2525.2,1102.4" fill="none" stroke="#333" stroke-width="0.9" stroke-linejoin="miter" />
<polyline points="2531.5,1091.5 2534.5,1095.0 2527.0,1107.0" fill="none" stroke="#333" stroke-width="0.9" stroke-linejoin="miter" />
<polygon points="2513.2,1122.3 2517.2,1128.9 2507.9,1144.8 2504.0,1138.2" fill="none" stroke="#333" stroke-width="0.9" stroke-linejoin="miter" />
<polyline points="2511.5,1126.0 2514.5,1129.5 2506.0,1143.0" fill="none" stroke="#333" stroke-width="0.9" stroke-linejoin="miter" />
<polygon points="2395.3,1237.6 2401.9,1249.5 2386.0,1269.4 2384.7,1256.1" fill="none" stroke="#333" stroke-width="0.9" stroke-linejoin="miter" />
<polyline points="2401.9,1249.5 2416.5,1274.7 2414.0,1276.0 2399.0,1252.0" fill="none" stroke="#333" stroke-width="0.9" stroke-linejoin="miter" />
<polyline points="2390.0,1265.0 2405.9,1293.2 2403.0,1295.0 2388.0,1268.0" fill="none" stroke="#333" stroke-width="0.9" stroke-linejoin="miter" />
<polygon points="2364.8,1317.1 2377.5,1337.0 2359.5,1367.4 2347.6,1347.6" fill="none" stroke="#333" stroke-width="0.9" stroke-linejoin="miter" />
<polyline points="2362.0,1322.0 2374.0,1340.0 2358.0,1363.0" fill="none" stroke="#333" stroke-width="0.9" stroke-linejoin="miter" />
<polygon points="2309.2,1387.3 2315.8,1399.2 2299.9,1417.8 2298.6,1404.5" fill="none" stroke="#333" stroke-width="0.9" stroke-linejoin="miter" />
<polyline points="2315.8,1399.2 2330.4,1425.7 2327.9,1427.0 2313.3,1401.7" fill="none" stroke="#333" stroke-width="0.9" stroke-linejoin="miter" />
<polyline points="2304.2,1412.3 2319.8,1441.6 2317.3,1442.9 2302.2,1415.3" fill="none" stroke="#333" stroke-width="0.9" stroke-linejoin="miter" />
<polygon points="2291.9,1417.8 2298.5,1429.7 2282.6,1448.3 2281.3,1435.0" fill="none" stroke="#333" stroke-width="0.9" stroke-linejoin="miter" />
<polyline points="2298.5,1429.7 2313.1,1456.2 2310.6,1457.5 2296.0,1432.2" fill="none" stroke="#333" stroke-width="0.9" stroke-linejoin="miter" />
<polyline points="2286.9,1442.8 2302.5,1472.1 2300.0,1473.4 2284.9,1445.8" fill="none" stroke="#333" stroke-width="0.9" stroke-linejoin="miter" />
<line x1="2598.3" y1="458.7" x2="2598.3" y2="526.8" stroke="#111" stroke-width="1" stroke-dasharray="14,4"/>
<line x1="2698.5" y1="458.7" x2="2698.5" y2="526.8" stroke="#111" stroke-width="1" stroke-dasharray="14,4"/>
<line x1="2598.3" y1="465.6" x2="2616.6" y2="465.6" stroke="#111" stroke-width="1" />
<line x1="2680.1" y1="465.6" x2="2698.5" y2="465.6" stroke="#111" stroke-width="1" />
<polygon points="2598.8,465.6 2607.8,463.0 2607.8,468.2" fill="#111" stroke="none" stroke-width="1.2" stroke-linejoin="miter" />
<polygon points="2698.0,465.6 2689.0,468.2 2689.0,463.0" fill="#111" stroke="none" stroke-width="1.2" stroke-linejoin="miter" />
<text x="2648.2" y="477.5" font-family="Liberation Sans" font-size="31" font-weight="normal" fill="#0a0a0a" text-anchor="middle" textLength="58" lengthAdjust="spacingAndGlyphs" stroke="#0a0a0a" stroke-width="0.7">22.2</text>
<line x1="2529.8" y1="491.0" x2="2301.0" y2="887.3" stroke="#111" stroke-width="1" />
<line x1="2259.1" y1="962.4" x2="2030.5" y2="1360.8" stroke="#111" stroke-width="1" />
<polygon points="2529.8,491.0 2527.6,500.1 2523.0,497.5" fill="#111" stroke="none" stroke-width="1.2" stroke-linejoin="miter" />
<polygon points="2030.5,1360.8 2032.7,1351.7 2037.3,1354.3" fill="#111" stroke="none" stroke-width="1.2" stroke-linejoin="miter" />
<line x1="2521" y1="486" x2="2595.6" y2="527.3" stroke="#111" stroke-width="1" stroke-dasharray="16,5"/>
<line x1="2021.4" y1="1356.9" x2="2094.4" y2="1398.3" stroke="#111" stroke-width="1" stroke-dasharray="16,5"/>
<text x="0" y="0" font-family="Liberation Sans" font-size="31" fill="#0a0a0a" stroke="#0a0a0a" stroke-width="0.7" text-anchor="middle" textLength="75" lengthAdjust="spacingAndGlyphs" transform="translate(2272.5,920.4) rotate(120)">219.4</text>
<line x1="2076.8" y1="1417.8" x2="2089.7" y2="1438.5" stroke="#111" stroke-width="1" />
<line x1="2121.6" y1="1493.7" x2="2134.6" y2="1514.4" stroke="#111" stroke-width="1" />
<polygon points="2076.8,1417.8 2083.6,1424.3 2079.0,1426.9" fill="#111" stroke="none" stroke-width="1.2" stroke-linejoin="miter" />
<polygon points="2134.6,1514.4 2127.8,1507.9 2132.4,1505.3" fill="#111" stroke="none" stroke-width="1.2" stroke-linejoin="miter" />
<line x1="2075.9" y1="1415.2" x2="2099.2" y2="1401.4" stroke="#111" stroke-width="1" stroke-dasharray="12,5"/>
<line x1="2129.4" y1="1519.6" x2="2162.2" y2="1499.7" stroke="#111" stroke-width="1" stroke-dasharray="12,5"/>
<text x="0" y="0" font-family="Liberation Sans" font-size="31" fill="#0a0a0a" stroke="#0a0a0a" stroke-width="0.7" text-anchor="middle" textLength="58" lengthAdjust="spacingAndGlyphs" transform="translate(2096,1471) rotate(60)">24.8</text>
<line x1="2034.5" y1="1448.0" x2="2069.0" y2="1496.3" stroke="#111" stroke-width="1" />
<line x1="2110.4" y1="1549.8" x2="2147.5" y2="1599.8" stroke="#111" stroke-width="1" />
<polygon points="2034.5,1448.0 2041.9,1453.8 2037.6,1456.8" fill="#111" stroke="none" stroke-width="1.2" stroke-linejoin="miter" />
<polygon points="2147.5,1599.8 2140.1,1594.0 2144.4,1591.0" fill="#111" stroke="none" stroke-width="1.2" stroke-linejoin="miter" />
<line x1="2027.6" y1="1451.4" x2="2095.7" y2="1400" stroke="#111" stroke-width="1" stroke-dasharray="14,6"/>
<line x1="2143.2" y1="1603.2" x2="2208.7" y2="1554.9" stroke="#111" stroke-width="1" stroke-dasharray="14,6"/>
<text x="0" y="0" font-family="Liberation Sans" font-size="31" fill="#0a0a0a" stroke="#0a0a0a" stroke-width="0.7" text-anchor="middle" textLength="58" lengthAdjust="spacingAndGlyphs" transform="translate(2080,1530) rotate(57)">43.6</text>
<line x1="2209.6" y1="1556" x2="2209.6" y2="1608" stroke="#111" stroke-width="1" stroke-dasharray="14,4"/>
<line x1="2285.5" y1="1556" x2="2285.5" y2="1608" stroke="#111" stroke-width="1" stroke-dasharray="14,4"/>
<line x1="2187.2" y1="1601.5" x2="2209.6" y2="1601.5" stroke="#111" stroke-width="1" />
<line x1="2285.5" y1="1601.5" x2="2307.9" y2="1601.5" stroke="#111" stroke-width="1" />
<polygon points="2209.3,1601.5 2200.3,1604.1 2200.3,1598.9" fill="#111" stroke="none" stroke-width="1.2" stroke-linejoin="miter" />
<polygon points="2285.8,1601.5 2294.8,1598.9 2294.8,1604.1" fill="#111" stroke="none" stroke-width="1.2" stroke-linejoin="miter" />
<text x="2247.5" y="1612.7" font-family="Liberation Sans" font-size="31" font-weight="normal" fill="#0a0a0a" text-anchor="middle" textLength="57" lengthAdjust="spacingAndGlyphs" stroke="#0a0a0a" stroke-width="0.7">16.3</text>
<circle cx="2126.3" cy="1823" r="93" fill="none" stroke="#0a0a0a" stroke-width="4.8"/>
<path d="M2061.4,1802.1 H2074 V1835 H2095.5 V1847 H2061.4 Z" fill="#0a0a0a"/>
<rect x="2102.9" y="1802.1" width="36.4" height="11.1" fill="#0a0a0a"/>
<rect x="2102.9" y="1820.3" width="36.4" height="9.7" fill="#0a0a0a"/>
<rect x="2102.9" y="1836" width="37.1" height="11" fill="#0a0a0a"/>
<path d="M2148.3,1802.1 H2168 A23.3,22.45 0 0 1 2168,1847 H2148.3 Z M2160.5,1813.2 H2167 A11.7,11.4 0 0 1 2167,1836 H2160.5 Z" fill="#0a0a0a" fill-rule="evenodd"/>
<text x="2131.5" y="1958.6" font-family="Liberation Sans" font-size="24.4" font-weight="normal" fill="#1a1a1a" text-anchor="middle" textLength="114" lengthAdjust="spacingAndGlyphs" stroke="#1a1a1a" stroke-width="0.5">MAX 12W</text>
<text x="2131" y="1998.4" font-family="Liberation Sans" font-size="24.4" font-weight="normal" fill="#1a1a1a" text-anchor="middle" textLength="128" lengthAdjust="spacingAndGlyphs" stroke="#1a1a1a" stroke-width="0.5">900 Lumen</text>
<text x="2384" y="1742" font-family="Liberation Sans" font-size="27.3" font-weight="normal" fill="#1a1a1a" text-anchor="start" textLength="84.5" lengthAdjust="spacingAndGlyphs" stroke="#1a1a1a" stroke-width="0.55">Model:</text>
<text x="2525" y="1742" font-family="Liberation Sans" font-size="27.3" font-weight="normal" fill="#1a1a1a" text-anchor="start" textLength="320" lengthAdjust="spacingAndGlyphs" stroke="#1a1a1a" stroke-width="0.55">TR031-4-12WTW-DD-W</text>
<text x="2384" y="1792.7" font-family="Liberation Sans" font-size="27.3" font-weight="normal" fill="#1a1a1a" text-anchor="start" textLength="132" lengthAdjust="spacingAndGlyphs" stroke="#1a1a1a" stroke-width="0.55">Collection:</text>
<text x="2545.5" y="1792.7" font-family="Liberation Sans" font-size="27.3" font-weight="normal" fill="#1a1a1a" text-anchor="start" textLength="293.5" lengthAdjust="spacingAndGlyphs" stroke="#1a1a1a" stroke-width="0.55">Magnetic track system</text>
<text x="2545.5" y="1843.5" font-family="Liberation Sans" font-size="27.3" font-weight="normal" fill="#1a1a1a" text-anchor="start" textLength="81.5" lengthAdjust="spacingAndGlyphs" stroke="#1a1a1a" stroke-width="0.55">Points</text>
<text x="2510" y="1885.8" font-family="Liberation Sans" font-size="27.3" font-weight="normal" fill="#1a1a1a" text-anchor="start" textLength="137" lengthAdjust="spacingAndGlyphs" stroke="#1a1a1a" stroke-width="0.55">Track light</text>
<text x="2384" y="1961.9" font-family="Liberation Sans" font-size="23.3" font-weight="normal" fill="#1a1a1a" text-anchor="start" textLength="478" lengthAdjust="spacingAndGlyphs" stroke="#1a1a1a" stroke-width="0.55">This product contains a light source of the</text>
<text x="2384" y="1989.7" font-family="Liberation Sans" font-size="23.3" font-weight="normal" fill="#1a1a1a" text-anchor="start" textLength="287" lengthAdjust="spacingAndGlyphs" stroke="#1a1a1a" stroke-width="0.55">energy efficiency class G</text>
<rect x="2385.2" y="1819.6" width="117.8" height="117.1" fill="none" stroke="#050505" stroke-width="3"/>
<rect x="2383.7" y="1838" width="120.8" height="18.8" fill="#050505"/>
<circle cx="2444.1" cy="1862.3" r="11.2" fill="#fff" stroke="#050505" stroke-width="3"/>
</svg></body></html>
